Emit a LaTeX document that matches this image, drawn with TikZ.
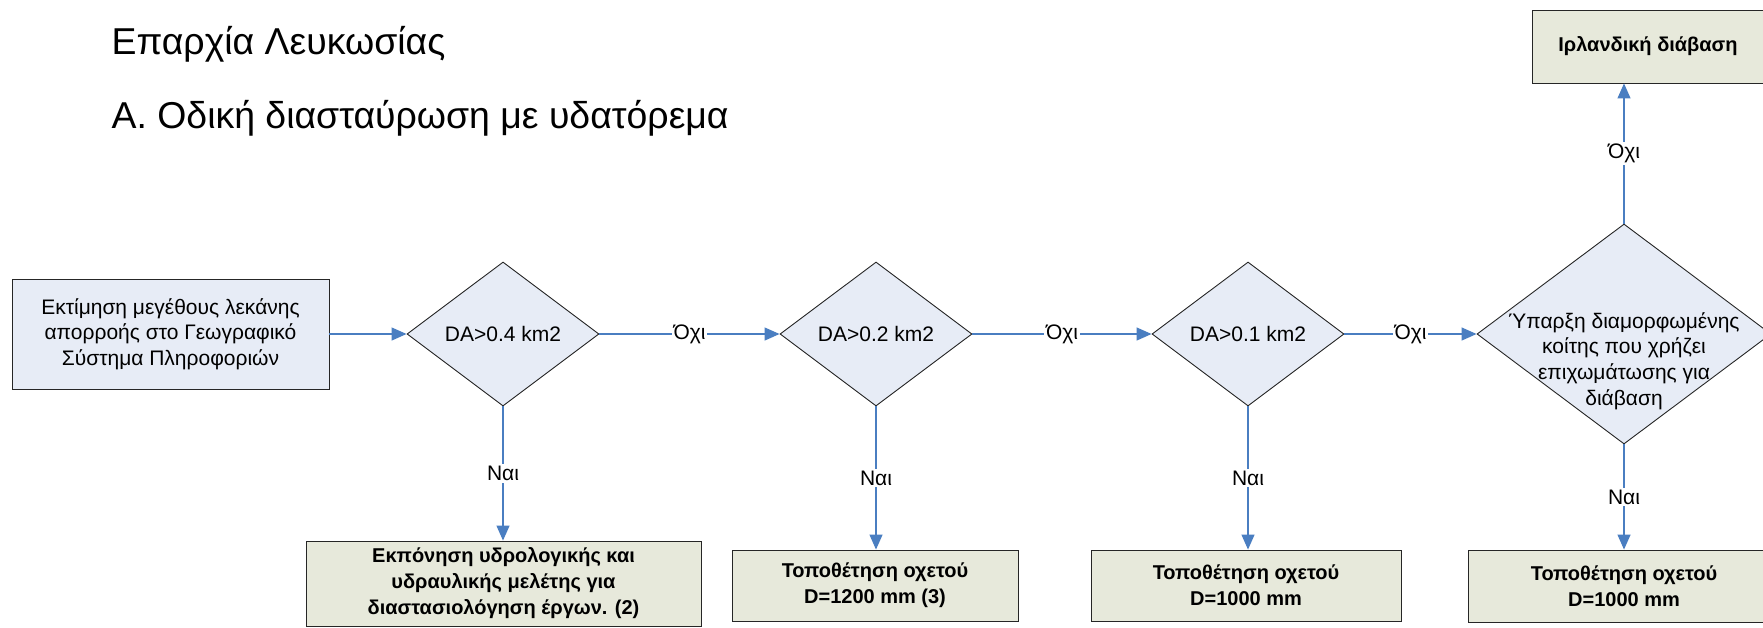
\documentclass[tikz,border=0pt]{standalone}
\usepackage{fontspec}
\setmainfont{Liberation Sans}
\usetikzlibrary{arrows.meta,shapes.geometric}
\definecolor{flowblue}{RGB}{74,126,193}
\definecolor{askfill}{RGB}{231,236,246}
\definecolor{endfill}{RGB}{231,233,219}

\begin{document}
\begin{tikzpicture}[x=1pt,y=-1pt,-{Triangle[length=15pt,width=13pt]},draw=flowblue,line width=1.3pt,
  start node/.style={rectangle,draw=black!85,fill=askfill,line width=0.9pt,align=center,
    font=\fontsize{21}{25.6}\selectfont,minimum width=317pt,minimum height=110pt},
  ask node/.style={diamond,draw=black!85,fill=askfill,line width=0.9pt,inner sep=0pt,shape aspect=1.33,
    font=\fontsize{21}{25.6}\selectfont,minimum width=192pt,minimum height=144pt},
  end node/.style={rectangle,draw=black!85,fill=endfill,line width=0.9pt,align=center,
    font=\bfseries\fontsize{20}{26}\selectfont},
  answer/.style={fill=white,inner sep=2pt,font=\fontsize{21}{25}\selectfont},
  head/.style={anchor=base west,inner sep=0pt,font=\fontsize{37.4}{44}\selectfont}]
\useasboundingbox (0,0) rectangle (1763,627);
\node[head] (prov) at (111,54) {Επαρχία Λευκωσίας};
\node[head] (part) at (111,128) {Α. Οδική διασταύρωση με υδατόρεμα};
\node[start node] (est) at (170.5,334) {Εκτίμηση μεγέθους λεκάνης\\απορροής στο Γεωγραφικό\\Σύστημα Πληροφοριών};
\node[ask node] (da4) at (503,334) {DA>0.4 km2};
\node[ask node] (da2) at (876,334) {DA>0.2 km2};
\node[ask node] (da1) at (1248,334) {DA>0.1 km2};
\node[ask node,minimum width=294pt,minimum height=220pt,
  label={[align=center,yshift=-27pt,font=\fontsize{21}{25.6}\selectfont]center:Ύπαρξη διαμορφωμένης\\κοίτης που χρήζει\\επιχωμάτωσης για\\διάβαση}] (bed) at (1624,334) {};
\node[end node,minimum width=395pt,minimum height=85pt] (study) at (503.5,583.5) {Εκπόνηση υδρολογικής και\\υδραυλικής μελέτης για\\διαστασιολόγηση έργων. (2)};
\node[end node,minimum width=286pt,minimum height=71pt] (pipe12) at (875,585.5) {Τοποθέτηση οχετού\\D=1200 mm (3)};
\node[end node,minimum width=310pt,minimum height=71pt] (pipe10) at (1246,585.5) {Τοποθέτηση οχετού\\D=1000 mm};
\node[end node,minimum width=312pt,minimum height=72pt] (pipe) at (1624,586) {Τοποθέτηση οχετού\\D=1000 mm};
\node[end node,minimum width=232pt,minimum height=73pt] (irish) at (1648,46.5) {Ιρλανδική διάβαση};
\draw (est) -- (da4);
\draw (da4) -- node[answer] {Όχι} (da2);
\draw (da2) -- node[answer] {Όχι} (da1);
\draw (da1) -- node[answer] {Όχι} (bed);
\draw (bed.north) -- node[answer] {Όχι} (bed.north |- irish.south);
\draw (da4.south) -- node[answer] {Ναι} (da4.south |- study.north);
\draw (da2.south) -- node[answer] {Ναι} (da2.south |- pipe12.north);
\draw (da1.south) -- node[answer] {Ναι} (da1.south |- pipe10.north);
\draw (bed.south) -- node[answer] {Ναι} (bed.south |- pipe.north);
\end{tikzpicture}
\end{document}
